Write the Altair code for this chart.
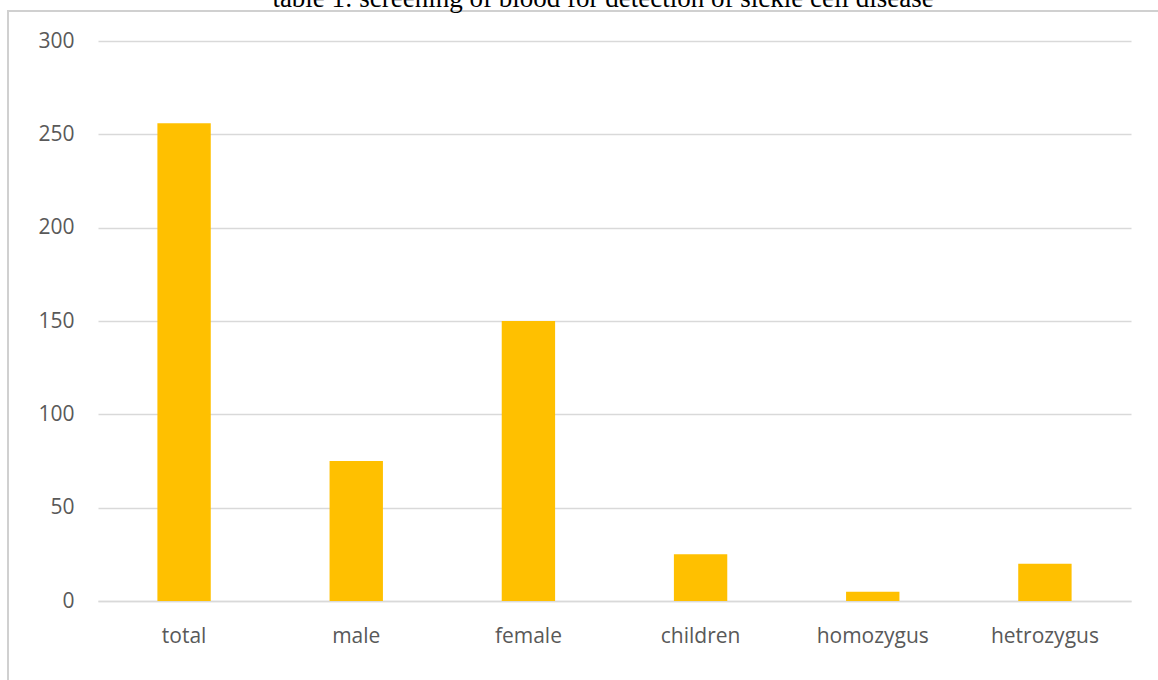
import altair as alt
import pandas as pd

categories = ["total", "male", "female", "children", "homozygus", "hetrozygus"]
values = [256, 75, 150, 25, 5, 20]
title_text = "table 1: screening of blood for detection of sickle cell disease"

df = pd.DataFrame({"category": categories, "value": values})

W, H = 1033, 560

frame = alt.Chart(pd.DataFrame({"a": [0]})).mark_rect(
    fill=None, stroke="#d0d0d0", strokeWidth=2
).encode(
    x=alt.value(-90), x2=alt.value(1200), y=alt.value(-30), y2=alt.value(700)
)

title = alt.Chart(pd.DataFrame({"t": [title_text]})).mark_text(
    font="Liberation Serif", fontSize=27, color="#000000", baseline="alphabetic", align="center"
).encode(text="t:N", x=alt.value(505), y=alt.value(-34))

bars = alt.Chart(df).mark_bar(color="#FFC000").encode(
    x=alt.X("category:N", sort=categories, title=None,
            scale=alt.Scale(paddingInner=0.69, paddingOuter=0.345),
            axis=alt.Axis(labelAngle=0, labelFont="Open Sans", labelFontSize=21,
                          labelColor="#595959", labelPadding=24, ticks=False,
                          domain=True, domainColor="#d9d9d9", domainWidth=1.5, grid=False)),
    y=alt.Y("value:Q", title=None,
            scale=alt.Scale(domain=[0, 300]),
            axis=alt.Axis(values=[0, 50, 100, 150, 200, 250, 300], labelFont="Open Sans",
                          labelFontSize=21, labelColor="#595959", labelPadding=24,
                          ticks=False, domain=False, gridColor="#d9d9d9", gridWidth=1.5)),
)

chart = alt.layer(frame, bars, title).properties(
    width=W, height=H,
    background="white",
    autosize=alt.AutoSizeParams(type="none"),
    padding={"left": 98, "top": 41, "right": 27, "bottom": 79},
).configure_view(strokeWidth=0, stroke="transparent")

chart.save("out.html", embed_options={"renderer": "svg", "actions": False})
